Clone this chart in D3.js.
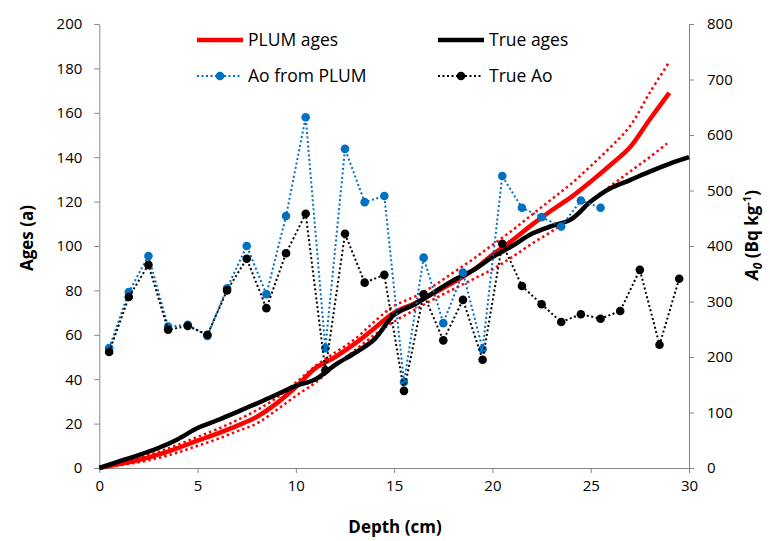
<!DOCTYPE html>
<html>
<head>
<meta charset="utf-8">
<script src="https://cdn.jsdelivr.net/npm/d3@7"></script>
<style>
  body { margin: 0; background: #fff; }
  svg { display: block; font-family: "Open Sans", sans-serif; }
  .axis path, .axis line { stroke: #868686; }
  .axis text { fill: #000; font-size: 15px; font-family: "Open Sans", sans-serif; }
</style>
</head>
<body>
<div id="chart"></div>
<script>
// Age-depth curves (left axis, years)
const ageDepths = d3.range(0, 31);
const trueAges = [0, 3, 5.8, 9, 13, 18, 21.5, 25.2, 29, 33, 37, 40, 46.5, 51.8, 58, 69, 73.5, 79, 84.5, 89, 95, 100, 105.5, 109, 112, 120, 126, 129.7, 133.5, 137, 140];
const plumDepths = d3.range(0, 30);
const plumAges = [0, 1.8, 3.6, 6, 9, 12.3, 15.5, 19, 23, 29, 36.5, 45, 50, 56, 63, 70, 74, 78.7, 83.5, 89, 96, 102.5, 109.5, 116, 122, 129, 136.5, 144.5, 157, 169];
const plumUpper = [0, 2.3, 4.5, 7.2, 10.5, 14, 17.5, 21.5, 26, 31.5, 38.5, 46, 52, 58, 66, 73, 77, 82, 88, 94, 100.5, 107, 114, 121, 128, 136, 144.5, 154, 169, 183];
const plumLower = [0, 1.2, 2.6, 4.5, 7, 10, 13, 16.5, 20, 26, 32.5, 38.5, 46, 53, 60, 66, 71, 76, 80.5, 85, 89.5, 95, 101, 106.5, 112.5, 120, 127, 133.5, 140, 147];

// A0 series (right axis, Bq kg-1)
const aoDepthsPlum = d3.range(0.5, 26, 1);
const aoPlum = [216, 317, 382, 255, 258, 238, 324, 400, 313, 454, 632, 216, 575, 479, 490, 155, 379, 261, 352, 214, 526, 469, 452, 435, 482, 469];
const aoDepthsTrue = d3.range(0.5, 30, 1);
const aoTrue = [209, 308, 366, 249, 256, 240, 320, 377, 288, 387, 458, 176, 422, 334, 348, 139, 313, 230, 303, 195, 404, 328, 295, 263, 277, 269, 283, 357, 222, 341];

const xTicks = [0, 5, 10, 15, 20, 25, 30];
const ageTicks = d3.range(0, 201, 20);
const aoTicks = d3.range(0, 801, 100);

const width = 770, height = 541;
const margin = { top: 24, right: 81, bottom: 73, left: 99.3 };

const svg = d3.select("#chart").append("svg")
    .attr("width", width)
    .attr("height", height);

const x = d3.scaleLinear().domain([0, 30]).range([margin.left, width - margin.right]);
const yAge = d3.scaleLinear().domain([0, 200]).range([height - margin.bottom, margin.top]);
const yAo = d3.scaleLinear().domain([0, 800]).range([height - margin.bottom, margin.top]);

// Axes
svg.append("g")
    .attr("class", "axis")
    .attr("transform", `translate(0,${height - margin.bottom})`)
    .call(d3.axisBottom(x).tickValues(xTicks).tickSize(5).tickSizeOuter(0).tickPadding(7));

svg.append("g")
    .attr("class", "axis")
    .attr("transform", `translate(${margin.left},0)`)
    .call(d3.axisLeft(yAge).tickValues(ageTicks).tickSize(5).tickSizeOuter(0).tickPadding(12));

svg.append("g")
    .attr("class", "axis")
    .attr("transform", `translate(${width - margin.right},0)`)
    .call(d3.axisRight(yAo).tickValues(aoTicks).tickSize(5).tickSizeOuter(0).tickPadding(13));

// Age lines
const ageLine = (depths) => d3.line()
    .x((d, i) => x(depths[i]))
    .y(d => yAge(d))
    .curve(d3.curveCatmullRom.alpha(0.5));

svg.append("path").datum(plumUpper)
    .attr("fill", "none").attr("stroke", "#ff0000").attr("stroke-width", 2.5)
    .attr("stroke-dasharray", "2.5 3").attr("d", ageLine(plumDepths));
svg.append("path").datum(plumLower)
    .attr("fill", "none").attr("stroke", "#ff0000").attr("stroke-width", 2.5)
    .attr("stroke-dasharray", "2.5 3").attr("d", ageLine(plumDepths));
svg.append("path").datum(plumAges)
    .attr("fill", "none").attr("stroke", "#ff0000").attr("stroke-width", 4.5)
    .attr("d", ageLine(plumDepths));
svg.append("path").datum(trueAges)
    .attr("fill", "none").attr("stroke", "#000").attr("stroke-width", 4.5)
    .attr("d", ageLine(ageDepths));

// A0 series
const aoLine = (depths) => d3.line()
    .x((d, i) => x(depths[i]))
    .y(d => yAo(d));

function drawAo(depths, values, color) {
    svg.append("path").datum(values)
        .attr("fill", "none").attr("stroke", color).attr("stroke-width", 2)
        .attr("stroke-dasharray", "2 2.5").attr("d", aoLine(depths));
    svg.append("g").selectAll("circle").data(values).join("circle")
        .attr("cx", (d, i) => x(depths[i]))
        .attr("cy", d => yAo(d))
        .attr("r", 4.3)
        .attr("fill", color);
}
drawAo(aoDepthsPlum, aoPlum, "#0070c0");
drawAo(aoDepthsTrue, aoTrue, "#000");

// Legend
const legend = svg.append("g").style("font-size", "17.5px");
const legendItems = [
    { label: "PLUM ages", x: 197, y: 40, color: "#ff0000", solid: true },
    { label: "True ages", x: 438, y: 40, color: "#000", solid: true },
    { label: "Ao from PLUM", x: 197, y: 76, color: "#0070c0", solid: false },
    { label: "True Ao", x: 438, y: 76, color: "#000", solid: false }
];
legendItems.forEach(it => {
    const g = legend.append("g");
    if (it.solid) {
        g.append("line").attr("x1", it.x).attr("x2", it.x + 46).attr("y1", it.y).attr("y2", it.y)
            .attr("stroke", it.color).attr("stroke-width", 4.5);
    } else {
        g.append("line").attr("x1", it.x).attr("x2", it.x + 44).attr("y1", it.y).attr("y2", it.y)
            .attr("stroke", it.color).attr("stroke-width", 2).attr("stroke-dasharray", "2 2.5");
        g.append("circle").attr("cx", it.x + 23).attr("cy", it.y).attr("r", 4.3).attr("fill", it.color);
    }
    g.append("text").attr("x", it.x + 51).attr("y", it.y).attr("dy", "0.35em")
        .attr("fill", "#000").text(it.label);
});

// Axis titles
svg.append("text")
    .attr("x", 395).attr("y", 527).attr("dy", "0.35em")
    .attr("text-anchor", "middle")
    .style("font-size", "17px").style("font-weight", "bold")
    .text("Depth (cm)");

svg.append("text")
    .attr("transform", "translate(27,238) rotate(-90)")
    .attr("dy", "0.35em")
    .attr("text-anchor", "middle")
    .style("font-size", "17px").style("font-weight", "bold")
    .text("Ages (a)");

const rightTitle = svg.append("text")
    .attr("transform", "translate(752,235) rotate(-90)")
    .attr("dy", "0.35em")
    .attr("text-anchor", "middle")
    .style("font-size", "17px").style("font-weight", "bold");
rightTitle.append("tspan").style("font-style", "italic").text("A");
rightTitle.append("tspan").style("font-style", "italic").style("font-size", "12px").attr("dy", "4").text("0");
rightTitle.append("tspan").attr("dy", "-4").text(" (Bq kg");
rightTitle.append("tspan").style("font-size", "11px").attr("dy", "-7").text("-1");
rightTitle.append("tspan").attr("dy", "7").text(")");
</script>
</body>
</html>
